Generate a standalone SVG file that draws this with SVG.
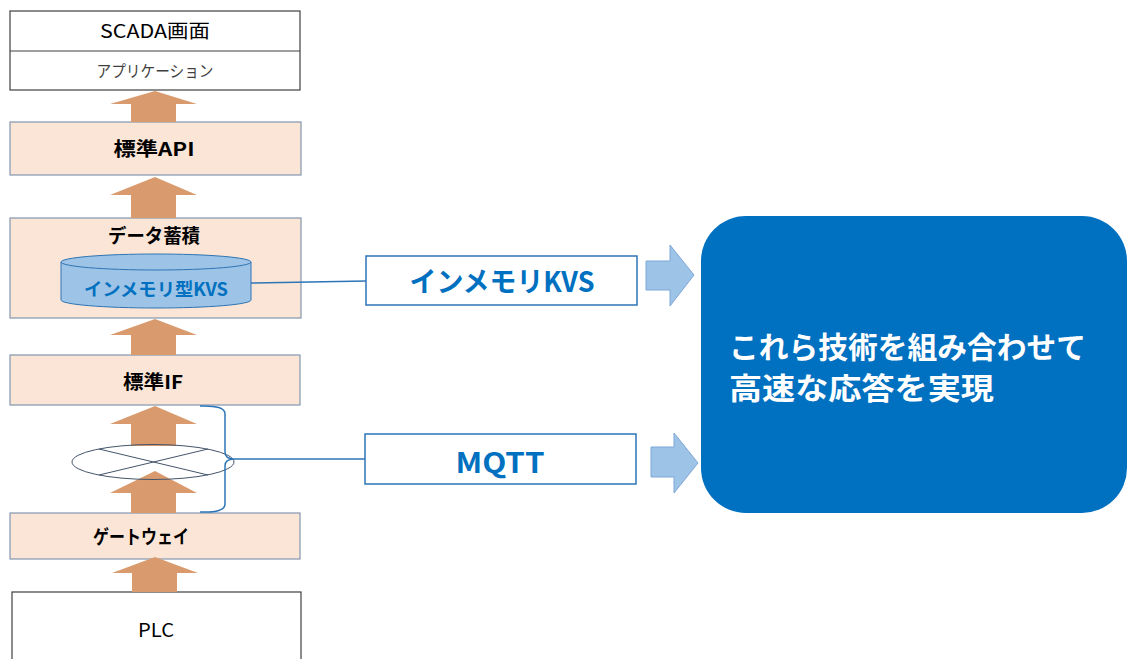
<svg xmlns="http://www.w3.org/2000/svg" width="1127" height="659" viewBox="0 0 1127 659">
<style>
text{font-family:"Noto Sans CJK JP","Noto Sans",sans-serif;text-anchor:middle}
.layer{fill:#FBE5D6;stroke:#8497B0;stroke-width:1.2}
.plain{fill:#fff;stroke:#404040;stroke-width:1.2}
.b{font-weight:bold;font-size:19px;fill:#000}
.up{fill:#D99B6E}
.blk{fill:#9DC3E6;stroke:#7DA7D9;stroke-width:1}
.tech{fill:#fff;stroke:#2E75B6;stroke-width:1.5}
.techt{font-weight:bold;font-size:28px;fill:#0070C0}
.link{fill:none;stroke:#2E75B6;stroke-width:1.5}
</style>
<rect width="1127" height="659" fill="#fff"/>
<g id="scada">
<rect class="plain" x="10" y="11" width="290" height="79"/>
<line x1="10" y1="51" x2="300" y2="51" stroke="#404040" stroke-width="1.2"/>
<text x="155" y="38" font-size="19" fill="#000" textLength="110" lengthAdjust="spacingAndGlyphs">SCADA画面</text>
<text x="155" y="77" font-size="16" fill="#404040" textLength="117" lengthAdjust="spacingAndGlyphs">アプリケーション</text>
</g>
<g id="api">
<rect class="layer" x="10" y="122" width="291" height="53"/>
<text class="b" x="154" y="156" textLength="81" lengthAdjust="spacingAndGlyphs">標準API</text>
</g>
<g id="store">
<rect class="layer" x="10" y="218" width="291" height="100"/>
<text class="b" x="154" y="243" textLength="92" lengthAdjust="spacingAndGlyphs">データ蓄積</text>
<g id="kvs-cyl">
<path d="M61,262 L61,300 A95,8 0 0 0 251,300 L251,262" fill="#9DC3E6" stroke="#2E75B6" stroke-width="1"/>
<ellipse cx="156" cy="262" rx="95" ry="8" fill="#9DC3E6" stroke="#2E75B6" stroke-width="1"/>
<text x="156" y="296" font-size="18" font-weight="bold" fill="#0070C0" textLength="144" lengthAdjust="spacingAndGlyphs">インメモリ型KVS</text>
</g>
</g>
<g id="stdif">
<rect class="layer" x="10" y="355" width="290" height="50"/>
<text class="b" x="153" y="389" textLength="60" lengthAdjust="spacingAndGlyphs">標準IF</text>
</g>
<g id="gateway">
<rect class="layer" x="10" y="513" width="290" height="46"/>
<text class="b" x="141" y="544" textLength="96" lengthAdjust="spacingAndGlyphs">ゲートウェイ</text>
</g>
<g id="plc">
<rect class="plain" x="12" y="592" width="289" height="80"/>
<text x="156" y="637" font-size="19" fill="#000" textLength="36" lengthAdjust="spacingAndGlyphs">PLC</text>
</g>
<g id="kvs">
<rect class="tech" x="366" y="256" width="271" height="49"/>
<text class="techt" x="502" y="292" textLength="185" lengthAdjust="spacingAndGlyphs">インメモリKVS</text>
</g>
<g id="mqtt">
<rect class="tech" x="365" y="434" width="271" height="50"/>
<text class="techt" x="500" y="473" textLength="89" lengthAdjust="spacingAndGlyphs">MQTT</text>
</g>
<g id="result">
<rect x="701" y="216" width="426" height="297" rx="45" ry="45" fill="#0070C0"/>
<text x="729" y="358" font-size="30" font-weight="bold" fill="#fff" style="text-anchor:start" textLength="357" lengthAdjust="spacingAndGlyphs">これら技術を組み合わせて</text>
<text x="729" y="399" font-size="30" font-weight="bold" fill="#fff" style="text-anchor:start" textLength="265" lengthAdjust="spacingAndGlyphs">高速な応答を実現</text>
</g>
<g id="connectors">
<polygon class="up" points="155,91 197,104 176,104 176,122 131,122 131,104 110,104"/>
<polygon class="up" points="155,177 197,195 176,195 176,218 131,218 131,195 110,195"/>
<polygon class="up" points="155,319 197,335 176,335 176,355 131,355 131,335 110,335"/>
<polygon class="up" points="155,406 197,424 176,424 176,446 131,446 131,424 110,424"/>
<polygon class="up" points="155,471 197,493 176,493 176,513 131,513 131,493 110,493"/>
<polygon class="up" points="155,557 198,573 177,573 177,592 132,592 132,573 112,573"/>
<g id="network">
<ellipse cx="153" cy="462" rx="81" ry="17.5" fill="none" stroke="#44546A" stroke-width="1"/>
<line x1="99" y1="449" x2="208" y2="475" stroke="#44546A" stroke-width="1"/>
<line x1="99" y1="475" x2="208" y2="449" stroke="#44546A" stroke-width="1"/>
</g>
<path class="link" d="M251,283 L366,281"/>
<path class="link" d="M200,406 Q225,405 225,414 L225,452 Q225,459 234,459 Q225,459 225,466 L225,504 Q225,513 200,512"/>
<path class="link" d="M234,459 L365,459"/>
<polygon class="blk" points="646,261 670,261 670,245 694,275 670,306 670,290 646,290"/>
<polygon class="blk" points="651,447 674,447 674,433 698,463 674,493 674,477 651,477"/>
</g>
</svg>
